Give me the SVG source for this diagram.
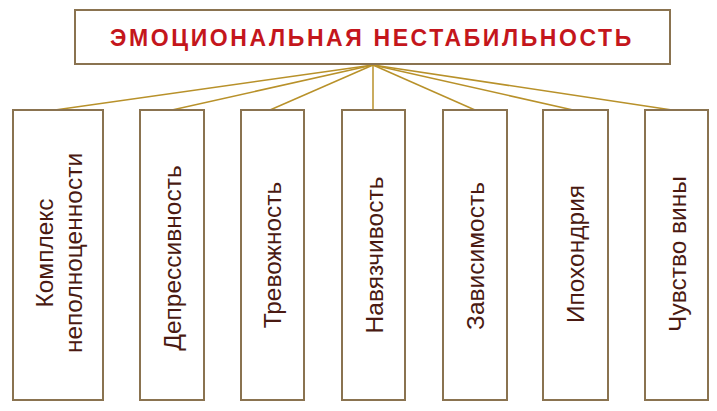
<svg xmlns="http://www.w3.org/2000/svg" width="717" height="411" viewBox="0 0 717 411">
<style>
.box{fill:#fff;stroke:#8a7350;stroke-width:2}
.lbl{font-family:"Liberation Sans",Arial,sans-serif;font-size:24.5px;fill:#4a1a12;text-anchor:middle;dominant-baseline:central}
.ttl{font-family:"Liberation Sans",Arial,sans-serif;font-size:23px;font-weight:bold;fill:#c4161c;text-anchor:middle;dominant-baseline:central;letter-spacing:2.6px}
.con{stroke:#b8912a;stroke-width:1.5;fill:none}
</style>
<rect width="717" height="411" fill="#fff"/>
<g id="connectors">
<line class="con" x1="373" y1="65" x2="55" y2="110"/>
<line class="con" x1="373" y1="65" x2="172" y2="110"/>
<line class="con" x1="373" y1="65" x2="270" y2="110"/>
<line class="con" x1="373" y1="65" x2="373" y2="110"/>
<line class="con" x1="373" y1="65" x2="475" y2="110"/>
<line class="con" x1="373" y1="65" x2="573" y2="110"/>
<line class="con" x1="373" y1="65" x2="672" y2="110"/>
</g>
<g id="title"><rect class="box" x="75" y="10" width="595" height="54"/><text class="ttl" x="372" y="38">ЭМОЦИОНАЛЬНАЯ НЕСТАБИЛЬНОСТЬ</text></g>
<g id="n1"><rect class="box" x="13" y="110" width="90" height="290"/><text class="lbl" transform="translate(44,253) rotate(-90)">Комплекс</text><text class="lbl" transform="translate(73,253) rotate(-90)">неполноценности</text></g>
<g id="n2"><rect class="box" x="140" y="110" width="64" height="290"/><text class="lbl" transform="translate(172,258) rotate(-90)">Депрессивность</text></g>
<g id="n3"><rect class="box" x="241" y="110" width="63" height="290"/><text class="lbl" transform="translate(272,255) rotate(-90)">Тревожность</text></g>
<g id="n4"><rect class="box" x="342" y="110" width="63" height="290"/><text class="lbl" transform="translate(374,255) rotate(-90)">Навязчивость</text></g>
<g id="n5"><rect class="box" x="443" y="110" width="64" height="290"/><text class="lbl" transform="translate(475,256) rotate(-90)">Зависимость</text></g>
<g id="n6"><rect class="box" x="543" y="110" width="65" height="290"/><text class="lbl" transform="translate(575,254) rotate(-90)">Ипохондрия</text></g>
<g id="n7"><rect class="box" x="645" y="110" width="63" height="290"/><text class="lbl" transform="translate(677,254) rotate(-90)">Чувство вины</text></g>
</svg>
